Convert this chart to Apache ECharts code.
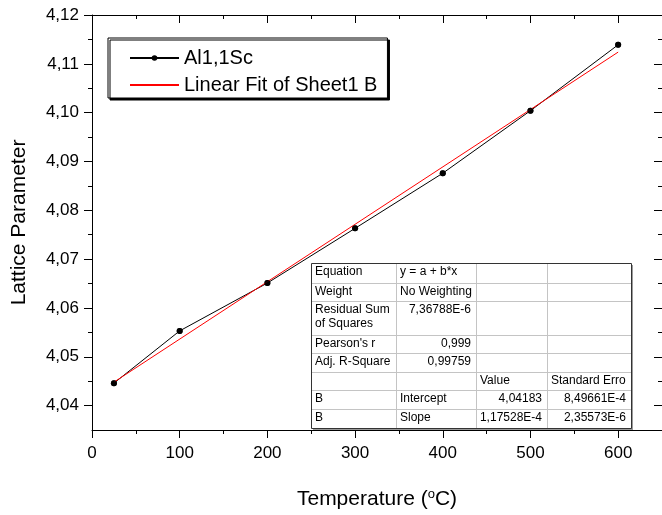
<!DOCTYPE html>
<html>
<head>
<meta charset="utf-8">
<title>Lattice Parameter</title>
<script src="https://cdn.jsdelivr.net/npm/echarts@6/dist/echarts.min.js"></script>
<style>
  html, body { margin: 0; padding: 0; background: #fff; }
  #chart { width: 662px; height: 515px; }
</style>
</head>
<body>
<div id="chart"></div>
<script>
// measured points
var tempX = [25, 100, 200, 300, 400, 500, 600];
var latticeY = [4.0446, 4.0553, 4.0651, 4.0763, 4.0876, 4.1004, 4.1139];
// fit line ends
var fitX = [25, 600];
var fitY = [4.0448, 4.1124];

var xMajor = [0, 100, 200, 300, 400, 500, 600];
var xMinor = [50, 150, 250, 350, 450, 550];
var yMajor = [4.04, 4.05, 4.06, 4.07, 4.08, 4.09, 4.10, 4.11, 4.12];
var yMinor = [4.045, 4.055, 4.065, 4.075, 4.085, 4.095, 4.105, 4.115];

var tableRows = [
  ['Equation', 'y = a + b*x', '', ''],
  ['Weight', 'No Weighting', '', ''],
  ['Residual Sum\nof Squares', '7,36788E-6', '', ''],
  ["Pearson's r", '0,999', '', ''],
  ['Adj. R-Square', '0,99759', '', ''],
  ['', '', 'Value', 'Standard Erro'],
  ['B', 'Intercept', '4,04183', '8,49661E-4'],
  ['B', 'Slope', '1,17528E-4', '2,35573E-6']
];

var FONT = '"Liberation Sans", Arial, sans-serif';
var chart = echarts.init(document.getElementById('chart'));

function zip(a, b) {
  return a.map(function (v, i) { return [v, b[i]]; });
}

function tableGraphic() {
  var rowEdges = [263, 283, 301, 335, 353, 372, 390, 409, 428];
  var colEdges = [311, 396, 476, 547, 631];
  var left = colEdges[0], top = rowEdges[0];
  var w = colEdges[colEdges.length - 1] - left, h = rowEdges[rowEdges.length - 1] - top;
  var els = [];
  els.push({ type: 'rect', shape: { x: left + 2, y: top + 2, width: w, height: h }, style: { fill: '#9a9a9a' }, z: 100 });
  els.push({ type: 'rect', shape: { x: left, y: top, width: w, height: h }, style: { fill: '#fff' }, z: 101 });
  for (var i = 1; i < rowEdges.length - 1; i++) {
    els.push({ type: 'line', shape: { x1: left, y1: rowEdges[i] + 0.5, x2: left + w, y2: rowEdges[i] + 0.5 }, style: { stroke: '#c4c4c4', lineWidth: 1 }, z: 102 });
  }
  for (var j = 1; j < colEdges.length - 1; j++) {
    els.push({ type: 'line', shape: { x1: colEdges[j] + 0.5, y1: top, x2: colEdges[j] + 0.5, y2: top + h }, style: { stroke: '#c4c4c4', lineWidth: 1 }, z: 102 });
  }
  els.push({ type: 'rect', shape: { x: left + 0.5, y: top + 0.5, width: w, height: h }, style: { fill: 'none', stroke: '#333', lineWidth: 1 }, z: 103 });
  tableRows.forEach(function (row, r) {
    row.forEach(function (txt, c) {
      if (!txt) return;
      var isNum = /^[0-9,E\-]+$/.test(txt);
      els.push({
        type: 'text', z: 104,
        style: {
          text: txt,
          x: isNum ? colEdges[c + 1] - 5 : colEdges[c] + 4,
          y: rowEdges[r] + 2,
          align: isNum ? 'right' : 'left',
          verticalAlign: 'top',
          lineHeight: 14,
          font: '12px ' + FONT,
          fill: '#000'
        }
      });
    });
  });
  return els;
}

function tickAxis(pos, values, len, inside, extra) {
  var ax = {
    type: 'value', position: pos,
    axisLine: { show: false, onZero: false },
    axisTick: { show: true, inside: inside, length: len, customValues: values, lineStyle: { color: '#000', width: 1 } },
    axisLabel: { show: false },
    splitLine: { show: false }
  };
  return Object.assign(ax, extra);
}

var xRange = { min: 0, max: 650 };
var yRange = { min: 4.035, max: 4.12 };

chart.setOption({
  animation: false,
  backgroundColor: '#fff',
  textStyle: { fontFamily: FONT },
  grid: { left: 92, top: 15, width: 574, height: 422, containLabel: false },
  legend: {
    data: [
      { name: 'Al1,1Sc' },
      { name: 'Linear Fit of Sheet1 B', itemStyle: { color: 'rgba(0,0,0,0)', borderWidth: 0 } }
    ],
    orient: 'vertical',
    left: 108, top: 38,
    padding: [9, 10, 2, 21],
    itemGap: 5,
    itemWidth: 49, itemHeight: 7,
    backgroundColor: '#fff',
    borderColor: '#000', borderWidth: 1,
    shadowColor: '#000', shadowBlur: 0, shadowOffsetX: 2, shadowOffsetY: 2,
    textStyle: { fontSize: 20, color: '#000', lineHeight: 22, fontFamily: FONT }
  },
  xAxis: [
    {
      type: 'value', position: 'bottom', min: xRange.min, max: xRange.max,
      axisLine: { show: true, onZero: false, lineStyle: { color: '#000', width: 1 } },
      axisTick: { show: true, length: 8, customValues: xMajor, lineStyle: { color: '#000' } },
      axisLabel: { customValues: xMajor, fontSize: 17, color: '#000', margin: 15, fontFamily: FONT },
      splitLine: { show: false },
      name: 'Temperature ({s|o}C)',
      nameLocation: 'middle', nameGap: 58,
      nameTextStyle: {
        fontSize: 21, color: '#000', fontFamily: FONT,
        rich: { s: { fontSize: 13, padding: [0, 0, 10, 0], color: '#000', fontFamily: FONT } }
      }
    },
    tickAxis('bottom', xMinor, 4, false, xRange),
    tickAxis('top', xMajor, 8, true, Object.assign({ axisLine: { show: true, onZero: false, lineStyle: { color: '#000' } } }, xRange)),
    tickAxis('top', xMinor, 4, true, xRange)
  ],
  yAxis: [
    {
      type: 'value', position: 'left', min: yRange.min, max: yRange.max,
      axisLine: { show: true, onZero: false, lineStyle: { color: '#000', width: 1 } },
      axisTick: { show: true, length: 8, customValues: yMajor, lineStyle: { color: '#000' } },
      axisLabel: {
        customValues: yMajor, fontSize: 17, color: '#000', margin: 13, fontFamily: FONT,
        formatter: function (v) { return v.toFixed(2).replace('.', ','); }
      },
      splitLine: { show: false },
      name: 'Lattice Parameter',
      nameLocation: 'middle', nameGap: 62,
      nameTextStyle: { fontSize: 21, color: '#000', fontFamily: FONT }
    },
    tickAxis('left', yMinor, 4, false, yRange),
    tickAxis('right', yMajor, 8, true, Object.assign({ axisLine: { show: true, onZero: false, lineStyle: { color: '#000' } } }, yRange)),
    tickAxis('right', yMinor, 4, true, yRange)
  ],
  series: [
    {
      name: 'Al1,1Sc', type: 'line',
      data: zip(tempX, latticeY),
      symbol: 'circle', symbolSize: 6,
      itemStyle: { color: '#000' },
      lineStyle: { color: '#000', width: 1 },
      z: 2
    },
    {
      name: 'Linear Fit of Sheet1 B', type: 'line',
      data: zip(fitX, fitY),
      symbol: 'none',
      itemStyle: { color: '#ff0000' },
      lineStyle: { color: '#ff0000', width: 1 },
      z: 3
    },
    {
      name: 'points', type: 'scatter',
      data: zip(tempX, latticeY),
      symbol: 'circle', symbolSize: 6,
      itemStyle: { color: '#000' },
      z: 4
    }
  ],
  graphic: tableGraphic()
});
</script>
</body>
</html>
